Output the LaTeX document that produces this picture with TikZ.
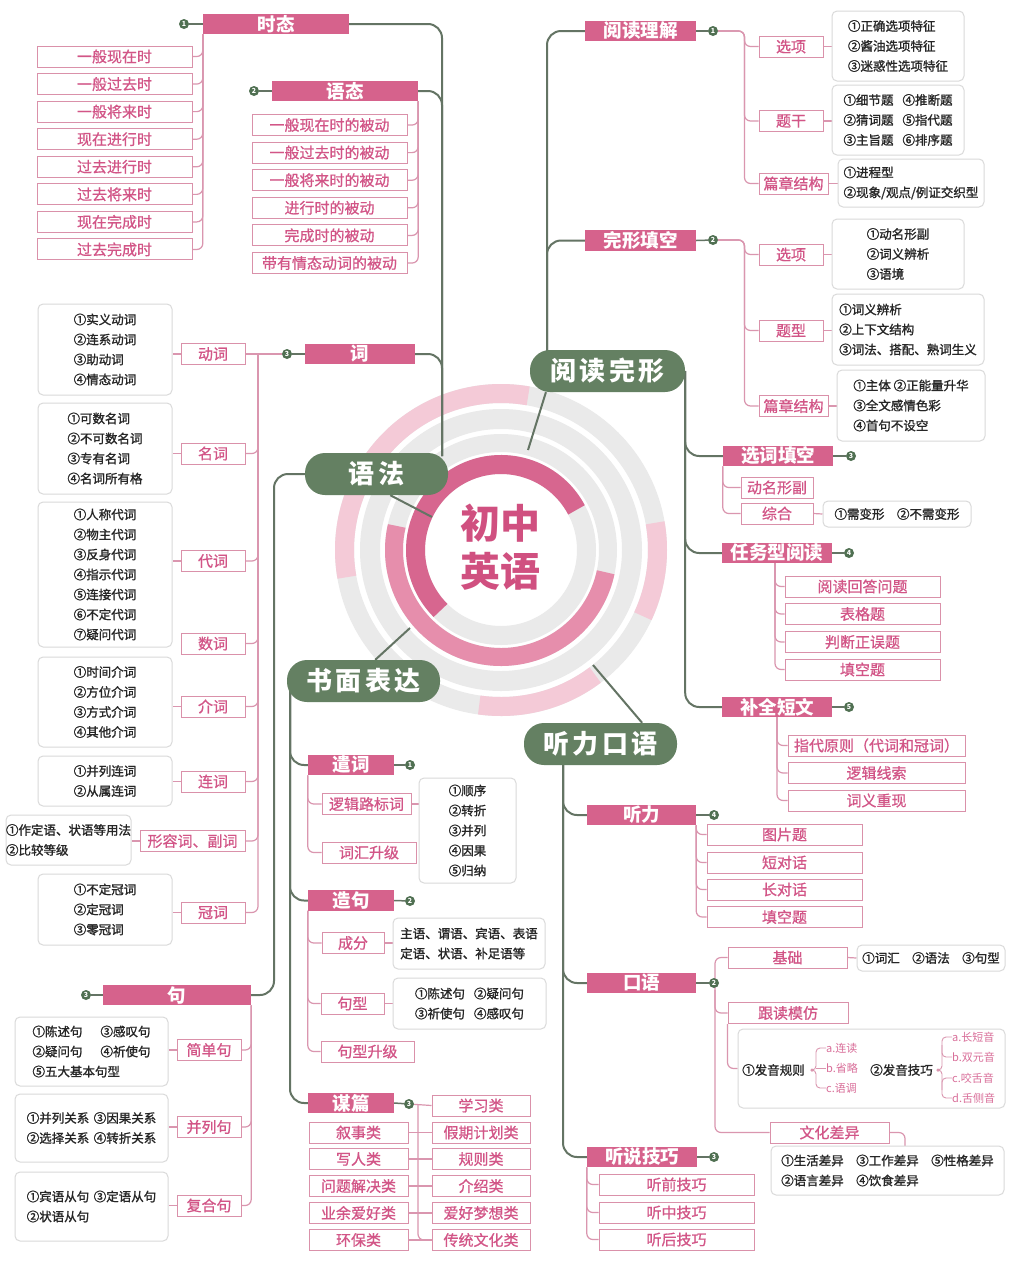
\documentclass[tikz,border=0pt]{standalone}
\usepackage{fontspec}
\setmainfont{Noto Sans CJK SC}
\usetikzlibrary{calc}
\pgfdeclarelayer{ringl}
\pgfdeclarelayer{bg}
\pgfsetlayers{ringl,bg,main}
\definecolor{hpink}{RGB}{214,98,140}
\definecolor{tpink}{RGB}{210,85,135}
\definecolor{bpink}{RGB}{218,145,170}
\definecolor{lpink}{RGB}{218,150,175}
\definecolor{gnode}{RGB}{100,128,98}
\definecolor{gline}{RGB}{100,116,100}
\definecolor{numc}{RGB}{80,112,82}
\definecolor{dborder}{RGB}{218,218,218}
\definecolor{rgray}{RGB}{234,234,234}
\definecolor{rlight}{RGB}{244,202,215}
\definecolor{rmid}{RGB}{230,142,172}
\definecolor{rdark}{RGB}{215,102,143}
\definecolor{ctext}{RGB}{208,80,128}
\tikzset{
 hdr/.style={fill=hpink, text=white, minimum height=20.5pt, inner sep=0pt, font=\fontsize{18.5}{18.5}\selectfont\bfseries},
 sub/.style={draw=bpink, line width=1pt, fill=white, text=tpink, minimum height=21pt, inner sep=0pt, font=\fontsize{15}{15}\selectfont\addfontfeatures{FakeBold=0.8}},
 det/.style={draw=dborder, line width=1pt, fill=white, rounded corners=5pt, text=black!85, inner sep=0pt, align=left, font=\fontsize{12.5}{20}\selectfont\addfontfeatures{FakeBold=1.3}},
 gnd/.style={fill=gnode, text=white, rounded corners=20pt, minimum height=42pt, inner sep=0pt, font=\fontsize{26}{26}\selectfont\bfseries\addfontfeatures{LetterSpace=12}},
 numb/.style={circle, fill=numc, text=white, inner sep=0pt, minimum size=10pt, font=\fontsize{7}{7}\selectfont\bfseries},
 pl/.style={draw=lpink, line width=1.2pt, rounded corners=6pt},
 gl/.style={draw=gline, line width=2pt, rounded corners=14pt},
 gs/.style={draw=gline, line width=1.5pt},
 smt/.style={text=tpink!85, inner sep=0pt, font=\fontsize{11}{11}\selectfont, anchor=west},
 dtx/.style={inner sep=0pt, text=black!85, font=\fontsize{12.5}{12.5}\selectfont\addfontfeatures{FakeBold=1.3}},
 dotn/.style={circle, fill=lpink, inner sep=0pt, minimum size=3.5pt},
}
\begin{document}
\begin{tikzpicture}[x=1pt,y=-1pt]
\begin{pgfonlayer}{ringl}
\fill[white] (0,0) rectangle (1015,1267);
\begin{scope}[shift={(501,550)}, y=1pt]
 \draw[rgray, line width=19pt] (0,0) circle[radius=156.5];
 \draw[rlight, line width=19pt] (80:156.5) arc[start angle=80, end angle=190, radius=156.5];
 \draw[rlight, line width=19pt] (-25:156.5) arc[start angle=-25, end angle=10, radius=156.5];
 \draw[rlight, line width=19pt] (-98:156.5) arc[start angle=-98, end angle=-53, radius=156.5];
 \draw[rgray, line width=20pt] (0,0) circle[radius=131];
 \draw[rgray, line width=18pt] (0,0) circle[radius=107];
 \draw[rmid, line width=18pt] (167:107) arc[start angle=167, end angle=348, radius=107];
 \draw[rgray, line width=19pt] (0,0) circle[radius=85.5];
 \draw[rdark, line width=19pt] (28:85.5) arc[start angle=28, end angle=225, radius=85.5];
\end{scope}
\end{pgfonlayer}
\useasboundingbox (0,0) rectangle (1015,1267);

% ---------- centre
\node[text=ctext, align=center, inner sep=0pt, font=\fontsize{40}{48}\selectfont\bfseries] (centre) at (500,547) {初中\\英语};
\coordinate (ryf) at (432,517);
\coordinate (ryd) at (528,450);
\coordinate (rsm) at (410,628);
\coordinate (rtk) at (593,665);

% ---------- green nodes
\node[gnd, minimum width=143pt] (yufa) at (376.5,474) {语法};
\node[gnd, minimum width=155pt] (ydwx) at (607.5,371) {阅读完形};
\node[gnd, minimum width=153pt] (smbd) at (363.5,681) {书面表达};
\node[gnd, minimum width=153pt] (tlky) at (600.5,744) {听力口语};

% ---------- 时态
\node[hdr, minimum width=146pt] (shitai) at (276,24) {时态};
\node[numb] (nst) at (184,24) {1};
\foreach \txt [count=\i] in {一般现在时,一般过去时,一般将来时,现在进行时,过去进行时,过去将来时,现在完成时,过去完成时}
  \node[sub, minimum width=155pt] (st\i) at (114.5,{56.5+27.57*(\i-1)}) {\txt};

% ---------- 语态
\node[hdr, minimum width=146pt] (yutai) at (345,91) {语态};
\node[numb] (nyt) at (254,91) {2};
\foreach \txt [count=\i] in {一般现在时的被动,一般过去时的被动,一般将来时的被动,进行时的被动,完成时的被动,带有情态动词的被动}
  \node[sub, minimum width=155pt] (yt\i) at (329.5,{125+27.6*(\i-1)}) {\txt};

% ---------- 词
\node[hdr, minimum width=110pt] (ci) at (360,354) {词};
\node[numb] (nci) at (287,354) {3};
\node[sub, minimum width=64pt] (dongci) at (213,354) {动词};
\node[sub, minimum width=64pt] (mingci) at (213,453.5) {名词};
\node[sub, minimum width=64pt] (daici) at (213,561) {代词};
\node[sub, minimum width=64pt] (shuci) at (213,643.5) {数词};
\node[sub, minimum width=64pt] (jieci) at (213,706.5) {介词};
\node[sub, minimum width=64pt] (lianci) at (213,781.5) {连词};
\node[sub, minimum width=105pt] (xrc) at (192.5,841) {形容词、副词};
\node[sub, minimum width=64pt] (guanci) at (213,912.5) {冠词};
\node[det, minimum width=134pt, minimum height=91pt] (ddongci) at (105,349.5) {①实义动词\\②连系动词\\③助动词\\④情态动词};
\node[det, minimum width=134pt, minimum height=91pt] (dmingci) at (105,448.5) {①可数名词\\②不可数名词\\③专有名词\\④名词所有格};
\node[det, minimum width=134pt, minimum height=145pt] (ddaici) at (105,574.5) {①人称代词\\②物主代词\\③反身代词\\④指示代词\\⑤连接代词\\⑥不定代词\\⑦疑问代词};
\node[det, minimum width=134pt, minimum height=90pt] (djieci) at (105,702) {①时间介词\\②方位介词\\③方式介词\\④其他介词};
\node[det, minimum width=134pt, minimum height=50pt] (dlianci) at (105,781) {①并列连词\\②从属连词};
\node[det, minimum width=125pt, minimum height=50pt] (dxrc) at (68.5,840) {①作定语、状语等用法\\②比较等级};
\node[det, minimum width=134pt, minimum height=71pt] (dguanci) at (105,909.5) {①不定冠词\\②定冠词\\③零冠词};

% ---------- 句
\node[hdr, minimum width=148pt] (ju) at (177,995) {句};
\node[numb] (nju) at (86,995) {3};
\node[sub, minimum width=64pt] (jdj) at (209,1050) {简单句};
\node[sub, minimum width=64pt] (blj) at (209,1127) {并列句};
\node[sub, minimum width=64pt] (fhj) at (209,1205.5) {复合句};
\node[det, minimum width=153pt, minimum height=69pt] (djdj) at (91.5,1051.5) {\makebox[68pt][l]{①陈述句}③感叹句\\\makebox[68pt][l]{②疑问句}④祈使句\\⑤五大基本句型};
\node[det, minimum width=153pt, minimum height=68pt] (dblj) at (91.5,1128) {\makebox[67pt][l]{①并列关系}③因果关系\\\makebox[67pt][l]{②选择关系}④转折关系};
\node[det, minimum width=153pt, minimum height=69pt] (dfhj) at (91.5,1206.5) {\makebox[67pt][l]{①宾语从句}③定语从句\\②状语从句};

% ---------- 书面表达
\node[hdr, minimum width=86pt] (qc) at (351,765) {遣词};
\node[numb] (nqc) at (410,765) {1};
\node[sub, minimum width=89pt] (ljlb) at (366.5,804) {逻辑路标词};
\node[sub, minimum width=94pt] (chsj) at (369,852.5) {词汇升级};
\node[det, minimum width=97pt, minimum height=105pt] (dqc) at (467.5,830.5) {①顺序\\②转折\\③并列\\④因果\\⑤归纳};
\node[hdr, minimum width=86pt] (zj) at (351,900.5) {造句};
\node[numb] (nzj) at (410,901) {2};
\node[sub, minimum width=62pt] (chengfen) at (353,943) {成分};
\node[sub, minimum width=63pt] (juxing) at (352.5,1003.5) {句型};
\node[sub, minimum width=93pt] (jxsj) at (367.5,1051.5) {句型升级};
\node[det, minimum width=152pt, minimum height=51pt] (dcf) at (469,943.5) {主语、谓语、宾语、表语\\定语、状语、补足语等};
\node[det, minimum width=153pt, minimum height=51pt] (djx) at (469.5,1003.5) {\makebox[59pt][l]{①陈述句}②疑问句\\\makebox[59pt][l]{③祈使句}④感叹句};
\node[hdr, minimum width=86pt] (mp) at (351,1103) {谋篇};
\node[numb] (nmp) at (409,1104) {3};
\foreach \nm/\txt/\yy in {xsl/叙事类/1132.5, xrl/写人类/1159, wtjj/问题解决类/1186, yyah/业余爱好类/1213, hbl/环保类/1240}
  \node[sub, minimum width=99pt] (\nm) at (358.5,\yy) {\txt};
\foreach \nm/\txt/\yy in {xxl/学习类/1105.5, jqjh/假期计划类/1132.5, gzl/规则类/1159, jsl/介绍类/1186, ahmx/爱好梦想类/1213, ctwh/传统文化类/1240}
  \node[sub, minimum width=98pt] (\nm) at (481,\yy) {\txt};

% ---------- 阅读理解
\node[hdr, minimum width=111pt] (ydlj) at (640.5,31) {阅读理解};
\node[numb] (nydlj) at (713,31) {1};
\node[sub, minimum width=64pt] (xx1) at (791,46.5) {选项};
\node[sub, minimum width=64pt] (tg) at (791,121) {题干};
\node[sub, minimum width=69pt] (pz1) at (793.5,183.5) {篇章结构};
\node[det, minimum width=132pt, minimum height=70pt] (dxx1) at (898,46) {①正确选项特征\\②酱油选项特征\\③迷惑性选项特征};
\node[det, minimum width=132pt, minimum height=70pt] (dtg) at (898,120) {\makebox[59pt][l]{①细节题}④推断题\\\makebox[59pt][l]{②猜词题}⑤指代题\\\makebox[59pt][l]{③主旨题}⑥排序题};
\node[det, minimum width=146pt, minimum height=48pt] (dpz1) at (911,183) {①进程型\\②现象/观点/例证交织型};

% ---------- 完形填空
\node[hdr, minimum width=111pt] (wxtk) at (640.5,240.5) {完形填空};
\node[numb] (nwxtk) at (713,240) {2};
\node[sub, minimum width=64pt] (xx2) at (791,254.5) {选项};
\node[sub, minimum width=64pt] (tx) at (791,330.5) {题型};
\node[sub, minimum width=69pt] (pz2) at (793.5,406) {篇章结构};
\node[det, minimum width=132pt, minimum height=70pt] (dxx2) at (898,254) {①动名形副\\②词义辨析\\③语境};
\node[det, minimum width=152pt, minimum height=71pt] (dtx) at (908,329.5) {①词义辨析\\②上下文结构\\③词法、搭配、熟词生义};
\node[det, minimum width=148pt, minimum height=71pt] (dpz2) at (911,405.5) {①主体 ②正能量升华\\③全文感情色彩\\④首句不设空};

% ---------- 选词填空
\node[hdr, minimum width=110pt] (xctk) at (778,456) {选词填空};
\node[numb] (nxctk) at (851,456) {3};
\node[sub, minimum width=72pt] (dmxf) at (777,487.5) {动名形副};
\node[sub, minimum width=72pt] (zh) at (777,513.5) {综合};
\node[det, minimum width=148pt, minimum height=26pt] (dzh) at (897,514) {①需变形\quad ②不需变形};

% ---------- 任务型阅读
\node[hdr, minimum width=110pt] (rwx) at (777,553) {任务型阅读};
\node[numb] (nrwx) at (849,553) {4};
\foreach \nm/\txt/\yy in {rw1/阅读回答问题/586.5, rw2/表格题/614, rw3/判断正误题/642, rw4/填空题/669.5}
  \node[sub, minimum width=155pt] (\nm) at (862.5,\yy) {\txt};

% ---------- 补全短文
\node[hdr, minimum width=110pt] (bqdw) at (777,707) {补全短文};
\node[numb] (nbqdw) at (849,707) {5};
\foreach \nm/\txt/\yy in {bq1/指代原则（代词和冠词）/745.5, bq2/逻辑线索/773, bq3/词义重现/800.5}
  \node[sub, minimum width=177pt] (\nm) at (876.5,\yy) {\txt};

% ---------- 听力
\node[hdr, minimum width=109pt] (tingli) at (641.5,815) {听力};
\node[numb] (ntl) at (714,815) {4};
\foreach \nm/\txt/\yy in {tl1/图片题/834.5, tl2/短对话/862.5, tl3/长对话/889.5, tl4/填空题/917}
  \node[sub, minimum width=155pt] (\nm) at (784.5,\yy) {\txt};

% ---------- 口语
\node[hdr, minimum width=109pt] (kouyu) at (641.5,983) {口语};
\node[numb] (nky) at (714,983) {2};
\node[sub, minimum width=119pt] (jichu) at (787.5,957.5) {基础};
\node[det, minimum width=148pt, minimum height=26pt] (djichu) at (931,958) {①词汇\quad ②语法\quad ③句型};
\node[sub, minimum width=120pt] (gdmf) at (788,1013) {跟读模仿};
\node[det, minimum width=267pt, minimum height=79pt] (fybox) at (871.5,1068.5) {};
\node[dtx] (fy1) at (773.5,1070) {①发音规则};
\node[dotn] (dot1) at (812,1070) {};
\node[smt] (sa) at (826,1048) {a.连读};
\node[smt] (sb) at (826,1068) {b.省略};
\node[smt] (sc) at (826,1088) {c.语调};
\node[dtx] (fy2) at (901.5,1070) {②发音技巧};
\node[dotn] (dot2) at (938,1070) {};
\node[smt] (ta) at (952,1037) {a.长短音};
\node[smt] (tb) at (952,1057) {b.双元音};
\node[smt] (tc) at (952,1078) {c.咬舌音};
\node[smt] (td) at (952,1098) {d.舌侧音};
\draw[pl, line width=0.9pt, rounded corners=4pt] (dot1.center) -- (816,1070) |- (sa.west);
\draw[pl, line width=0.9pt, rounded corners=4pt] (dot1.center) -- (816,1070) |- (sc.west);
\draw[pl, line width=0.9pt] (816,1068) -- (sb.west);
\draw[pl, line width=0.9pt, rounded corners=4pt] (dot2.center) -- (942,1070) |- (ta.west);
\draw[pl, line width=0.9pt, rounded corners=4pt] (dot2.center) -- (942,1070) |- (td.west);
\draw[pl, line width=0.9pt, rounded corners=4pt] (942,1045) |- (tb.west);
\draw[pl, line width=0.9pt, rounded corners=4pt] (942,1090) |- (tc.west);
\node[sub, minimum width=119pt] (whcy) at (829.5,1132.5) {文化差异};
\node[det, minimum width=233pt, minimum height=49pt] (dwhcy) at (887.5,1170.5) {\makebox[75pt][l]{①生活差异}\makebox[75pt][l]{③工作差异}⑤性格差异\\\makebox[75pt][l]{②语言差异}④饮食差异};

% ---------- 听说技巧
\node[hdr, minimum width=110pt] (tsjq) at (642,1157) {听说技巧};
\node[numb] (ntsjq) at (714,1157) {3};
\foreach \nm/\txt/\yy in {ts1/听前技巧/1184.5, ts2/听中技巧/1212.5, ts3/听后技巧/1239.5}
  \node[sub, minimum width=155pt] (\nm) at (676.5,\yy) {\txt};

% ================= connectors
\begin{pgfonlayer}{bg}
\draw[gs, line width=2pt] (ryf) -- (yufa.303);
\draw[gs, line width=2pt] (ryd) -- (ydwx.199);
\draw[gs, line width=2pt] (rsm) -- (smbd.61);
\draw[gs, line width=2pt] (rtk) -- (tlky.27);

\coordinate (yftop) at (442,456);
\draw[gl] (shitai.east) -| (yftop);
\draw[gl] (yutai.east) -| (yftop);
\draw[gl] (ci.east) -| (yftop);
\coordinate (yfl) at (274,995);
\draw[gl] (yufa.west) -| (yfl) -- (ju.east);
\draw[gs] (nst) -- (shitai.west);
\draw[gs] (nyt) -- (yutai.west);
\draw[gs] (nci) -- (ci.west);
\draw[gs] (nju) -- (ju.west);
\foreach \i in {1,...,8} \draw[pl] (shitai.south west) |- (st\i.east);
\foreach \i in {1,...,6} \draw[pl] (yutai.south east) |- (yt\i.east);
\draw[pl] (nci) -- (dongci.east);
\coordinate (cij) at (258,354);
\foreach \nm in {mingci,daici,shuci,jieci,lianci,xrc,guanci} \draw[pl] (cij) |- (\nm.east);
\draw[pl] (ddongci.east |- dongci) -- (dongci.west);
\draw[pl] (dmingci.east |- mingci) -- (mingci.west);
\draw[pl] (ddaici.east |- daici) -- (daici.west);
\draw[pl] (djieci.east |- jieci) -- (jieci.west);
\draw[pl] (dlianci.east |- lianci) -- (lianci.west);
\draw[pl] (dxrc.east |- xrc) -- (xrc.west);
\draw[pl] (dguanci.east |- guanci) -- (guanci.west);
\foreach \nm in {jdj,blj,fhj} \draw[pl] (ju.south east) |- (\nm.east);
\draw[pl] (djdj.east |- jdj) -- (jdj.west);
\draw[pl] (dblj.east |- blj) -- (blj.west);
\draw[pl] (dfhj.east |- fhj) -- (fhj.west);

\coordinate (smb) at (290,690);
\draw[gl] (smb) |- (qc.west);
\draw[gl] (smb) |- (zj.west);
\draw[gl] (smb) |- (mp.west);
\draw[gs] (qc.east) -- (nqc);
\draw[gs] (zj.east) -- (nzj);
\draw[gs] (mp.east) -- (nmp);
\draw[pl] (qc.south west) |- (ljlb.west);
\draw[pl] (qc.south west) |- (chsj.west);
\draw[pl] (ljlb.east) -- (dqc.west |- ljlb);
\draw[pl] (zj.south west) |- (chengfen.west);
\draw[pl] (zj.south west) |- (juxing.west);
\draw[pl] (zj.south west) |- (jxsj.west);
\draw[pl] (chengfen.east) -- (dcf.west |- chengfen);
\draw[pl] (juxing.east) -- (djx.west |- juxing);
\coordinate (mpv) at (418,1104);
\draw[pl] (nmp) -- (xxl.west);
\draw[pl] (mpv) |- (ctwh.west);
\draw[pl] (xsl.east) -- (jqjh.west);
\draw[pl] (xrl.east) -- (gzl.west);
\draw[pl] (wtjj.east) -- (jsl.west);
\draw[pl] (yyah.east) -- (ahmx.west);
\draw[pl] (hbl.east) -- (ctwh.west);

\coordinate (ydtop) at (547,355);
\draw[gl] (ydtop) |- (ydlj.west);
\draw[gl] (ydtop) |- (wxtk.west);
\draw[gl] (ydwx.east) |- (xctk.west);
\draw[gl] (ydwx.east) |- (rwx.west);
\draw[gl] (ydwx.east) |- (bqdw.west);
\draw[gs] (ydlj.east) -- (nydlj);
\draw[gs] (wxtk.east) -- (nwxtk);
\draw[gs] (xctk.east) -- (nxctk);
\draw[gs] (rwx.east) -- (nrwx);
\draw[gs] (bqdw.east) -- (nbqdw);
\foreach \nm in {xx1,tg,pz1} \draw[pl] (nydlj) -| ($(\nm.west)+(-14,0)$) -- (\nm.west);
\foreach \nm in {xx2,tx,pz2} \draw[pl] (nwxtk) -| ($(\nm.west)+(-14,0)$) -- (\nm.west);
\draw[pl] (xx1.east) -- (dxx1.west |- xx1);
\draw[pl] (tg.east) -- (dtg.west |- tg);
\draw[pl] (pz1.east) -- (dpz1.west |- pz1);
\draw[pl] (xx2.east) -- (dxx2.west |- xx2);
\draw[pl] (tx.east) -- (dtx.west |- tx);
\draw[pl] (pz2.east) -- (dpz2.west |- pz2);
\draw[pl] (xctk.south west) |- (dmxf.west);
\draw[pl] (xctk.south west) |- (zh.west);
\draw[pl] (zh.east) -- (dzh.west);
\coordinate (rwj) at (775,563);
\foreach \nm in {rw1,rw2,rw3,rw4} \draw[pl] (rwj) |- (\nm.west);
\coordinate (bqj) at (777,717);
\foreach \nm in {bq1,bq2,bq3} \draw[pl] (bqj) |- (\nm.west);

\coordinate (tkb) at (563,760);
\draw[gl] (tkb) |- (tingli.west);
\draw[gl] (tkb) |- (kouyu.west);
\draw[gl] (tkb) |- (tsjq.west);
\draw[gs] (tingli.east) -- (ntl);
\draw[gs] (kouyu.east) -- (nky);
\draw[gs] (tsjq.east) -- (ntsjq);
\foreach \nm in {tl1,tl2,tl3,tl4} \draw[pl] (tingli.south east) |- (\nm.west);
\coordinate (kyv) at (715,990);
\draw[pl] (kyv) |- (jichu.west);
\draw[pl] (kyv) |- (gdmf.west);
\draw[pl] (kyv) |- (whcy.west);
\draw[pl] (jichu.east) -- (djichu.west);
\draw[pl] (gdmf.south west) |- (fybox.west);
\coordinate (wht) at (905,1146);
\draw[pl] (whcy.east) -| (wht);
\foreach \nm in {ts1,ts2,ts3} \draw[pl] (tsjq.south west) |- (\nm.west);
\end{pgfonlayer}
\end{tikzpicture}
\end{document}
